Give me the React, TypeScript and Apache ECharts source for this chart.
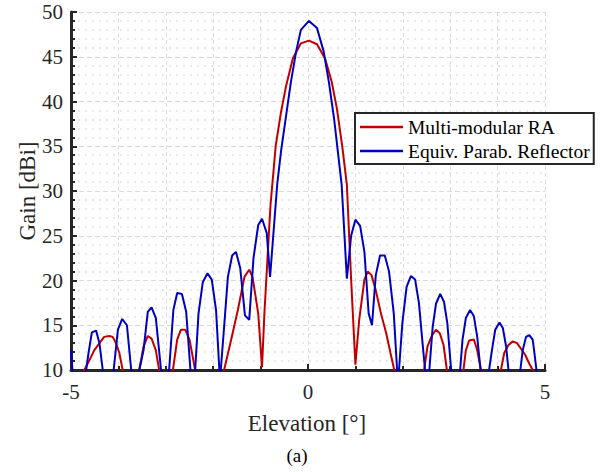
import React, { useEffect, useRef } from "react";
import * as echarts from "echarts";

// Elevation (deg) and gain (dBi) samples
const elevRA = [
  -5, -4.72, -4.61, -4.51, -4.4, -4.3, -4.19, -4.12, -4.05, -3.98, -3.91,
  -3.74, -3.56, -3.47, -3.38, -3.3, -3.21, -3.14,
  -3.0, -2.85, -2.76, -2.68, -2.59, -2.5, -2.38,
  -2.1, -1.77, -1.62, -1.48, -1.34, -1.24, -1.17, -1.05, -0.97,
  -0.92, -0.86, -0.79, -0.68, -0.57, -0.46, -0.32, -0.15, 0.02, 0.19, 0.36, 0.5, 0.61, 0.72, 0.82,
  0.91, 1.0, 1.08, 1.19, 1.26, 1.34, 1.43, 1.54, 1.65, 1.74, 1.82,
  2.1, 2.45, 2.52, 2.61, 2.7, 2.78, 2.86, 2.93,
  3.1, 3.28, 3.33, 3.4, 3.5, 3.57, 3.65,
  3.85, 4.07, 4.14, 4.23, 4.32, 4.41, 4.49, 4.58, 4.67, 4.74, 5,
];
const gainRA = [
  5, 10, 11.1, 12.2, 13.0, 13.7, 13.8, 13.7, 13.0, 11.9, 10,
  4, 10, 12.6, 13.8, 13.5, 12.2, 10,
  4, 10, 13.4, 14.5, 14.5, 13.4, 10,
  2, 10, 13.4, 16.7, 20.4, 21.2, 20.4, 16.3, 10.3,
  16.3, 22.0, 28.5, 35.1, 38.8, 41.8, 44.8, 46.5, 46.8, 46.4, 44.8, 42.2, 39.2, 35.1, 30.7,
  20.1, 10.6, 15.6, 20.1, 21.0, 20.6, 18.9, 16.3, 14.1, 11.9, 10,
  3, 10, 12.6, 13.8, 14.5, 14.1, 12.8, 10,
  4, 10, 12.2, 13.3, 13.4, 12.2, 10,
  4, 10, 11.9, 12.8, 13.2, 13.0, 12.4, 11.7, 10.7, 10, 5,
];

const elevRefl = [
  -5, -4.97, -4.82, -4.68, -4.63, -4.56, -4.47, -4.4, -4.33,
  -4.2, -4.1, -4.01, -3.92, -3.82, -3.73,
  -3.64, -3.56, -3.47, -3.38, -3.3, -3.21, -3.1,
  -3.02, -2.93, -2.84, -2.76, -2.66, -2.57, -2.48,
  -2.43, -2.38, -2.31, -2.22, -2.12, -2.03, -1.94, -1.87,
  -1.855, -1.84, -1.77, -1.69, -1.6, -1.52, -1.43, -1.33, -1.24,
  -1.15, -1.05, -0.97, -0.87, -0.8,
  -0.65, -0.57, -0.46, -0.36, -0.25, -0.15, 0.02, 0.19, 0.33, 0.44, 0.55, 0.63, 0.71,
  0.82, 0.91, 1.0, 1.1, 1.19, 1.28, 1.35, 1.43, 1.52, 1.62, 1.71, 1.81, 1.88,
  1.9, 1.92, 1.99, 2.08, 2.17, 2.26, 2.34, 2.41, 2.47,
  2.52, 2.56, 2.63, 2.7, 2.79, 2.87, 2.94, 3.02,
  3.12, 3.21, 3.26, 3.33, 3.42, 3.5, 3.57, 3.64,
  3.73, 3.82, 3.88, 3.95, 4.04, 4.11, 4.18, 4.23,
  4.35, 4.48, 4.53, 4.6, 4.67, 4.74, 4.77, 4.82,
  4.9, 5,
];
const gainRefl = [
  12.3, 10, 3, 10, 11.9, 14.2, 14.4, 13.0, 10,
  4, 10, 14.5, 15.7, 15.0, 10,
  4, 10, 12.2, 16.5, 17.0, 15.8, 10,
  4, 10, 16.7, 18.6, 18.5, 16.5, 10,
  4, 10, 16.3, 19.8, 20.8, 20.1, 16.7, 10,
  6, 10, 14.8, 20.4, 22.8, 23.2, 21.4, 16.1, 15.6,
  22.5, 26.2, 26.9, 25.3, 20.4,
  30.7, 34.4, 38.5, 42.2, 45.6, 48.0, 49.0, 48.2, 45.6, 42.2, 38.1, 34.4, 30.7,
  20.2, 25.0, 26.8, 26.1, 23.2, 16.3, 15.0, 20.6, 22.8, 22.8, 21.0, 16.3, 10,
  6, 10, 15.2, 19.3, 20.5, 20.1, 17.5, 13.4, 10,
  5, 10, 14.8, 17.4, 18.5, 17.6, 15.2, 10,
  4, 10, 13.4, 15.8, 16.7, 16.0, 13.7, 10,
  4, 10, 12.2, 14.5, 15.3, 14.7, 12.6, 10,
  4, 10, 12.2, 13.7, 13.9, 13.4, 12.2, 10,
  4, 8,
];

const seriesNames = ["Multi-modular RA", "Equiv. Parab. Reflector"];
const xTitle = "Elevation [°]";
const yTitle = "Gain [dBi]";
const caption = "(a)";

const FONT = "Liberation Serif";
const INK = "#262626";

export default function App() {
  const ref = useRef<HTMLDivElement>(null);

  useEffect(() => {
    if (!ref.current) return;
    const chart = echarts.init(ref.current, undefined, { renderer: "svg" });
    const pairs = (xs: number[], ys: number[]) => xs.map((x, i) => [x, ys[i]]);

    chart.setOption({
      animation: false,
      backgroundColor: "#ffffff",
      textStyle: { fontFamily: FONT },
      grid: { left: 71, top: 12, width: 474, height: 358, containLabel: false },
      xAxis: {
        type: "value",
        min: -5,
        max: 5,
        interval: 5,
        axisLine: { show: true, onZero: false, lineStyle: { color: INK, width: 3 } },
        axisTick: { show: true, inside: true, length: 6, lineStyle: { color: INK, width: 2 } },
        minorTick: { show: true, splitNumber: 5, length: 4, lineStyle: { color: INK, width: 2 } },
        splitLine: { show: true, lineStyle: { color: "#dddddd", width: 1, type: [4, 3] } },
        minorSplitLine: { show: true, lineStyle: { color: "#dddddd", width: 1, type: [4, 3] } },
        axisLabel: { color: INK, fontFamily: FONT, fontSize: 21, margin: 11 },
      },
      yAxis: {
        type: "value",
        min: 10,
        max: 50,
        interval: 5,
        axisLine: { show: true, onZero: false, lineStyle: { color: INK, width: 3 } },
        axisTick: { show: true, inside: true, length: 6, lineStyle: { color: INK, width: 2 } },
        minorTick: { show: true, splitNumber: 5, length: 4, lineStyle: { color: INK, width: 2 } },
        splitLine: { show: true, lineStyle: { color: "#d8d8d8", width: 1.2, type: [5, 3] } },
        minorSplitLine: { show: true, lineStyle: { color: "#e2e2e2", width: 1.5, type: [2, 5] } },
        axisLabel: { color: INK, fontFamily: FONT, fontSize: 21, margin: 8 },
      },
      legend: {
        left: 355,
        top: 113,
        orient: "vertical",
        align: "left",
        icon: "rect",
        itemWidth: 43,
        itemHeight: 2.5,
        itemGap: 4,
        padding: [4, 4, 3, 5],
        borderColor: INK,
        borderWidth: 2,
        borderRadius: 0,
        backgroundColor: "#ffffff",
        textStyle: { color: "#000000", fontFamily: FONT, fontSize: 19.5, lineHeight: 20 },
        data: seriesNames,
      },
      graphic: [
        {
          type: "text",
          x: 307,
          y: 423,
          style: { text: xTitle, fontFamily: FONT, fontSize: 23, fill: INK, align: "center", verticalAlign: "middle" },
        },
        {
          type: "text",
          x: 27,
          y: 191,
          rotation: Math.PI / 2,
          style: { text: yTitle, fontFamily: FONT, fontSize: 23, fill: INK, align: "center", verticalAlign: "middle" },
        },
        {
          type: "text",
          x: 297,
          y: 455,
          style: { text: caption, fontFamily: FONT, fontSize: 19, fill: "#000000", align: "center", verticalAlign: "middle" },
        },
      ],
      series: [
        {
          name: seriesNames[0],
          type: "line",
          data: pairs(elevRA, gainRA),
          showSymbol: false,
          clip: true,
          color: "#c00000",
          lineStyle: { color: "#c00000", width: 2 },
          z: 3,
        },
        {
          name: seriesNames[1],
          type: "line",
          data: pairs(elevRefl, gainRefl),
          showSymbol: false,
          clip: true,
          color: "#0000c0",
          lineStyle: { color: "#0000c0", width: 2 },
          z: 4,
        },
      ],
    });

    return () => chart.dispose();
  }, []);

  return (
    <div
      ref={ref}
      style={{ position: "fixed", left: 0, top: 0, width: 613, height: 472, background: "#fff" }}
    />
  );
}
